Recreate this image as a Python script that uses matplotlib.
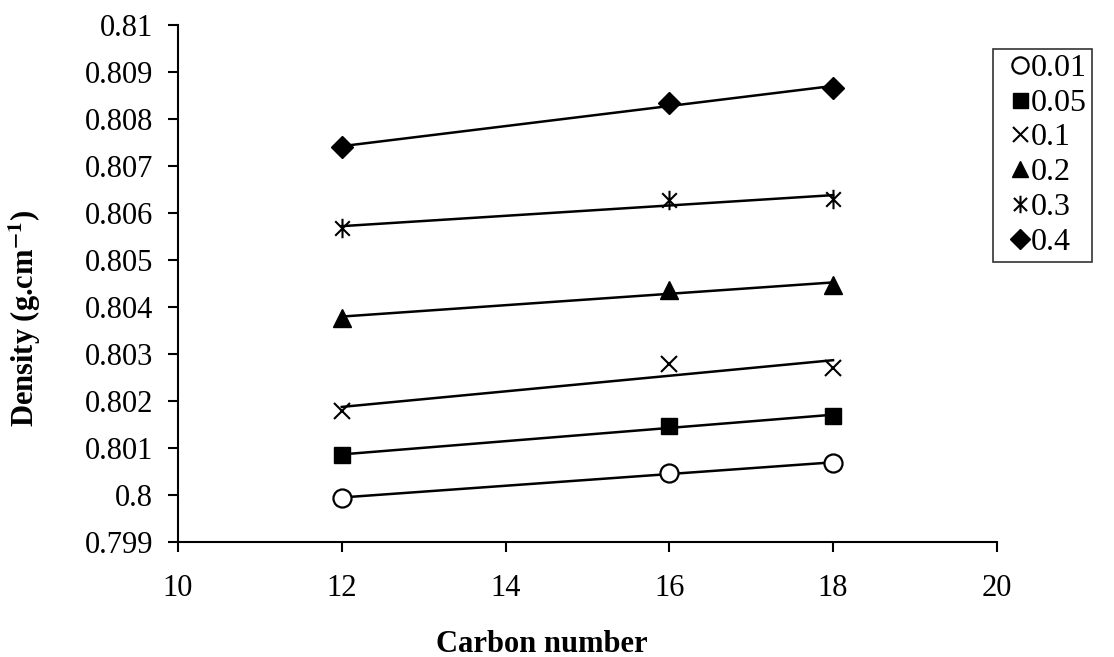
import matplotlib
matplotlib.use('Agg')
import matplotlib.pyplot as plt
import numpy as np
from matplotlib.path import Path

# density vs. carbon number for each mole fraction
carbon = [12, 16, 18]
labels = ['0.01', '0.05', '0.1', '0.2', '0.3', '0.4']
d_001 = [0.79994, 0.80047, 0.80068]
d_005 = [0.80085, 0.80147, 0.80168]
d_01 = [0.80179, 0.80279, 0.80270]
d_02 = [0.80377, 0.80436, 0.80447]
d_03 = [0.80568, 0.80628, 0.80630]
d_04 = [0.80740, 0.80834, 0.80866]

# excel style star: vertical bar plus an x
star = Path([(0, -1), (0, 1), (-0.75, -0.75), (0.75, 0.75), (-0.75, 0.75), (0.75, -0.75)],
            [Path.MOVETO, Path.LINETO, Path.MOVETO, Path.LINETO, Path.MOVETO, Path.LINETO])

styles = [
    dict(marker='o', mfc='white', mec='black', ms=13, mew=1.6),
    dict(marker='s', mfc='black', mec='black', ms=12),
    dict(marker='x', mfc='none', mec='black', ms=12, mew=1.5),
    dict(marker='^', mfc='black', mec='black', ms=13),
    dict(marker=star, mfc='none', mec='black', ms=14, mew=1.5),
    dict(marker='D', mfc='black', mec='black', ms=11),
]

plt.rcParams['font.family'] = ['Liberation Serif', 'DejaVu Serif']
plt.rcParams['mathtext.fontset'] = 'stix'

fig = plt.figure(figsize=(11.14, 6.57), dpi=100)
ax = fig.add_axes([0.1598, 0.175, 0.735, 0.787])

xfit = np.array([12, 18])
for data, lab, st in zip([d_001, d_005, d_01, d_02, d_03, d_04], labels, styles):
    ax.plot(carbon, data, ls='none', label=lab, **st)
    k, b = np.polyfit(carbon, data, 1)
    ax.plot(xfit, k * xfit + b, color='black', lw=1.8, zorder=1)

ax.set_xlim(10, 20)
ax.set_ylim(0.799, 0.81)
ax.set_xticks([10, 12, 14, 16, 18, 20])
ax.set_yticks(np.arange(0.799, 0.8105, 0.001))
ax.set_yticklabels(['0.799', '0.8', '0.801', '0.802', '0.803', '0.804', '0.805',
                    '0.806', '0.807', '0.808', '0.809', '0.81'])

for s in ['top', 'right']:
    ax.spines[s].set_visible(False)
for s in ['left', 'bottom']:
    ax.spines[s].set_linewidth(1.5)
ax.tick_params(axis='both', labelsize=22, width=1.5, length=7, direction='out')
ax.tick_params(axis='y', pad=11)
ax.tick_params(axis='x', pad=16)

ax.set_xlabel('Carbon number', fontsize=22, fontweight='bold')
ax.xaxis.set_label_coords(0.444, -0.17)
ax.set_ylabel('Density (g.cm$^{\\mathbf{-1}}$)', fontsize=22, fontweight='bold')
ax.yaxis.set_label_coords(-0.165, 0.433)

leg = ax.legend(loc='upper left', bbox_to_anchor=(0.995, 0.954), fontsize=23,
                frameon=True, fancybox=False, edgecolor='black', handlelength=1.4,
                handletextpad=-0.35, labelspacing=0.17, borderpad=0.15, borderaxespad=0,
                markerscale=0.9)
leg.get_frame().set_linewidth(1.2)

fig.savefig('out.png', dpi=100)
